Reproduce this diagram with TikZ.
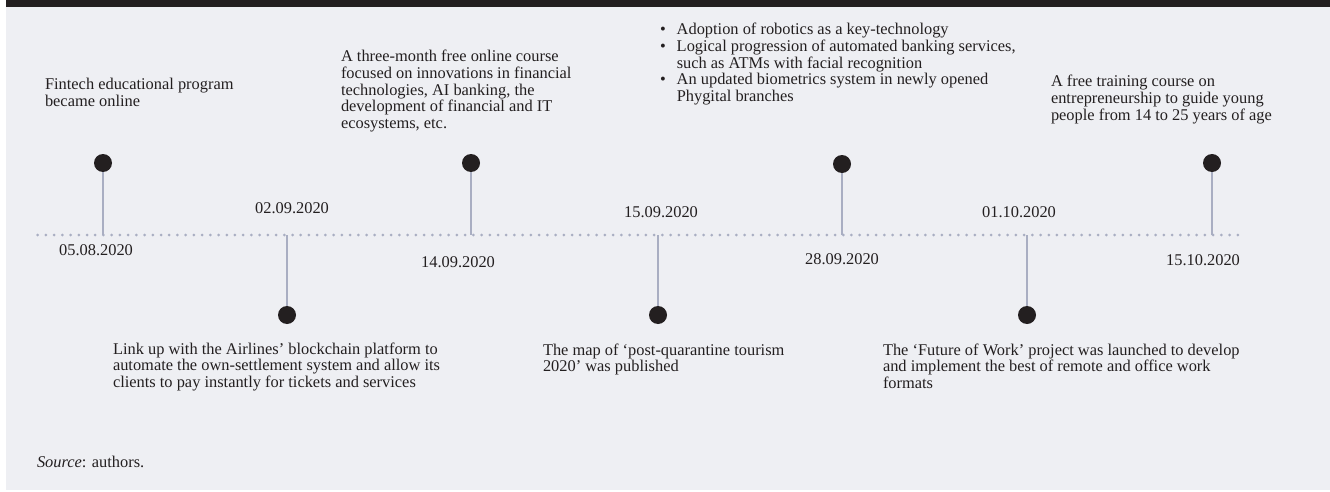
\documentclass[tikz,border=0pt]{standalone}
\usepackage{fontspec}
\setmainfont{Liberation Serif}
\definecolor{bg}{HTML}{EEEFF3}
\definecolor{ink}{HTML}{231F20}
\definecolor{stemc}{HTML}{A9AEC2}
\newcommand{\mylines}[1]{\begin{tabular}[t]{@{}l@{}}#1\end{tabular}}
\begin{document}
\begin{tikzpicture}[x=1pt,y=-1pt,
  every node/.style={inner sep=0pt, outer sep=0pt, text=ink, font=\fontsize{16.4}{16.6}\selectfont},
  txt/.style={anchor=base west},
  datelbl/.style={anchor=base},
  evdot/.style={circle, fill=ink, minimum size=18pt},
  stemline/.style={draw=stemc, line width=2pt},
  dotline/.style={draw=stemc, line width=3pt, line cap=round, dash pattern=on 0pt off 8.22pt}]
\useasboundingbox (0,0) rectangle (1330,492);
\fill[bg] (6,0) rectangle (1330,490);
\fill[ink] (6,0) rectangle (1330,7);
% timeline
\coordinate (lineL) at (37.7,235);
\coordinate (lineR) at (1246,235);
\draw[dotline] (lineL) -- (lineR);
% event points on line
\coordinate (p1) at (103,235);
\coordinate (p2) at (287,235);
\coordinate (p3) at (471,235);
\coordinate (p4) at (658,235);
\coordinate (p5) at (842,235);
\coordinate (p6) at (1027,235);
\coordinate (p7) at (1212,235);
% dots
\node[evdot] (d1) at (103,163) {};
\node[evdot] (d2) at (287,315) {};
\node[evdot] (d3) at (471,163) {};
\node[evdot] (d4) at (658,315) {};
\node[evdot] (d5) at (842,164) {};
\node[evdot] (d6) at (1027,315) {};
\node[evdot] (d7) at (1212,163) {};
\foreach \i in {1,...,7} \draw[stemline] (d\i) -- (p\i);
% dates
\node[datelbl] (dt1) at (96,255.5) {05.08.2020};
\node[datelbl] (dt2) at (292,213) {02.09.2020};
\node[datelbl] (dt3) at (458,267) {14.09.2020};
\node[datelbl] (dt4) at (661,217) {15.09.2020};
\node[datelbl] (dt5) at (842,264) {28.09.2020};
\node[datelbl] (dt6) at (1019,217) {01.10.2020};
\node[datelbl] (dt7) at (1203,265) {15.10.2020};
% descriptions
\node[txt] (t1) at (45,90) {\mylines{Fintech educational program\\became online}};
\node[txt] (t2) at (113,354) {\mylines{Link up with the Airlines’ blockchain platform to\\automate the own-settlement system and allow its\\clients to pay instantly for tickets and services}};
\node[txt] (t3) at (341,62) {\mylines{A three-month free online course\\focused on innovations in financial\\technologies, AI banking, the\\development of financial and IT\\ecosystems, etc.}};
\node[txt] (t4) at (543,355) {\mylines{The map of ‘post-quarantine tourism\\2020’ was published}};
\node[txt] (t5) at (660,35) {\begin{tabular}[t]{@{}l@{\hspace{11pt}}l@{}}
•&Adoption of robotics as a key-technology\\
•&Logical progression of automated banking services,\\
 &such as ATMs with facial recognition\\
•&An updated biometrics system in newly opened\\
 &Phygital branches\end{tabular}};
\node[txt] (t6) at (883,355) {\mylines{The ‘Future of Work’ project was launched to develop\\and implement the best of remote and office work\\formats}};
\node[txt] (t7) at (1051,87) {\mylines{A free training course on\\entrepreneurship to guide young\\people from 14 to 25 years of age}};
\node[txt] (src) at (37,467) {\textit{Source}: authors.};
\end{tikzpicture}
\end{document}
